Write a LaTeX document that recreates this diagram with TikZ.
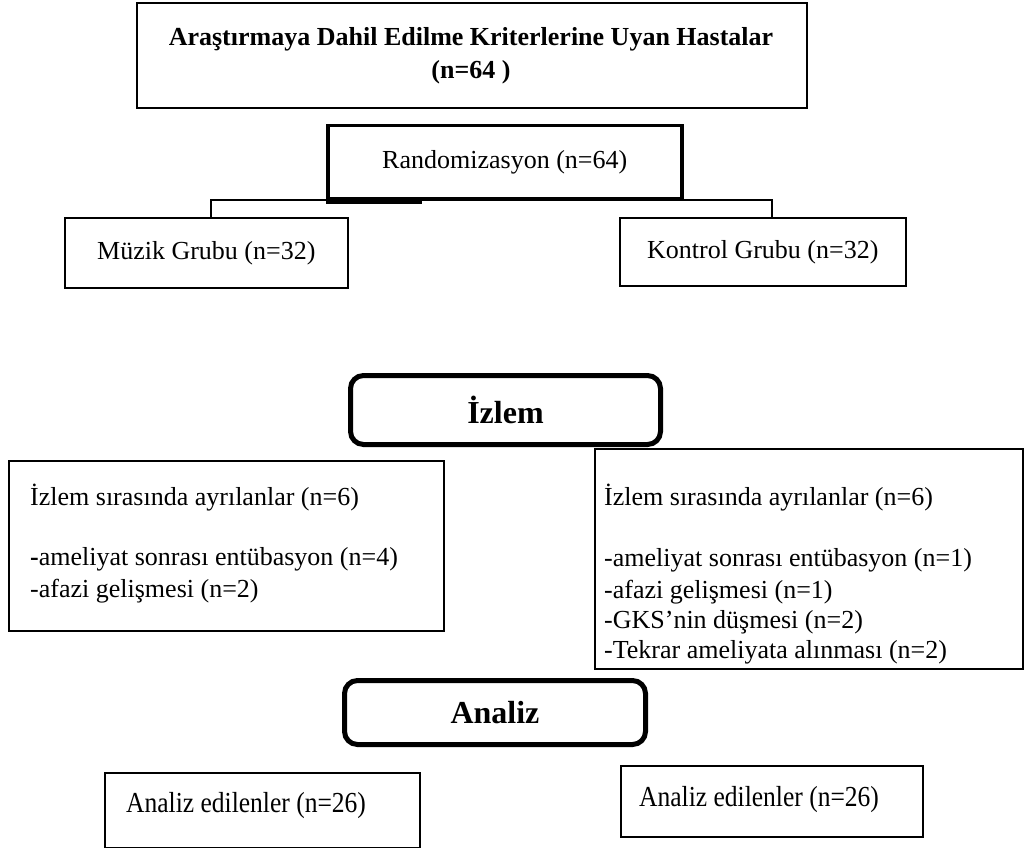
\documentclass[tikz,border=0pt]{standalone}
\usepackage{fontspec}
\setmainfont{Liberation Serif}
\newfontfamily\condfont[FakeStretch=0.88]{Liberation Serif}
\newcommand\nf{\fontsize{26}{31}\selectfont}
\newcommand\bigbf{\bfseries\fontsize{32}{36}\selectfont}
\begin{document}
\begin{tikzpicture}[x=1pt,y=-1pt,
  box/.style={draw, line width=1.6pt, inner sep=0pt, anchor=north west, font=\nf},
  thickbox/.style={box, line width=3.5pt},
  rbox/.style={draw, line width=5pt, rounded corners=13pt, inner sep=0pt, anchor=north west, font=\bigbf},
  txt/.style={anchor=base west, inner sep=0pt, font=\nf},
  ctxt/.style={anchor=base west, inner sep=0pt, font=\condfont\fontsize{29}{33}\selectfont},
  conn/.style={line width=1.6pt}]
\useasboundingbox (0,0) rectangle (1034,848);
% top
\node[box, minimum width=670pt, minimum height=105pt] (top) at (136,2) {};
\node[anchor=base, inner sep=0pt, font=\bfseries\nf] (t1) at (471,46) {Araştırmaya Dahil Edilme Kriterlerine Uyan Hastalar};
\node[anchor=base, inner sep=0pt, font=\bfseries\nf] (t2) at (471,79) {(n=64 )};
% randomization
\node[thickbox, minimum width=354pt, minimum height=73pt] (rand) at (326,124) {Randomizasyon (n=64)};
\node[box, minimum width=283pt, minimum height=70pt] (muzik) at (64,217) {Müzik Grubu (n=32)};
\node[box, minimum width=286pt, minimum height=68pt] (kontrol) at (619,217) {Kontrol Grubu (n=32)};
\draw[conn] ([xshift=4.5pt]muzik.north) -- ++(0,-17) -| ([xshift=9pt]kontrol.north);
\draw[line width=3.5pt] (rand.south west) ++(0,1.5) -- ++(96,0);
% izlem
\node[rbox, minimum width=310pt, minimum height=69pt] (izlem) at (348,373) {İzlem};
\node[box, minimum width=435pt, minimum height=170pt] (lbox) at (8,460) {};
\node[txt] (l1) at (30,505) {İzlem sırasında ayrılanlar (n=6)};
\node[txt] (l2) at (30,565) {{\bfseries -}ameliyat sonrası entübasyon (n=4)};
\node[txt] (l3) at (30,597) {-afazi gelişmesi (n=2)};
\node[box, minimum width=428pt, minimum height=220pt] (rbox) at (594,448) {};
\node[txt] (r1) at (604,505) {İzlem sırasında ayrılanlar (n=6)};
\node[txt] (r2) at (604,566) {-ameliyat sonrası entübasyon (n=1)};
\node[txt] (r3) at (604,598) {-afazi gelişmesi (n=1)};
\node[txt] (r4) at (604,628) {-GKS’nin düşmesi (n=2)};
\node[txt] (r5) at (604,658) {-Tekrar ameliyata alınması (n=2)};
% analiz
\node[rbox, minimum width=301pt, minimum height=64pt] (analiz) at (342,678) {Analiz};
\node[box, minimum width=315pt, minimum height=75pt] (a1) at (104,772) {};
\node[ctxt] (a1t) at (126,812) {Analiz edilenler (n=26)};
\node[box, minimum width=302pt, minimum height=71pt] (a2) at (620,765) {};
\node[ctxt] (a2t) at (639,806) {Analiz edilenler (n=26)};
\end{tikzpicture}
\end{document}
